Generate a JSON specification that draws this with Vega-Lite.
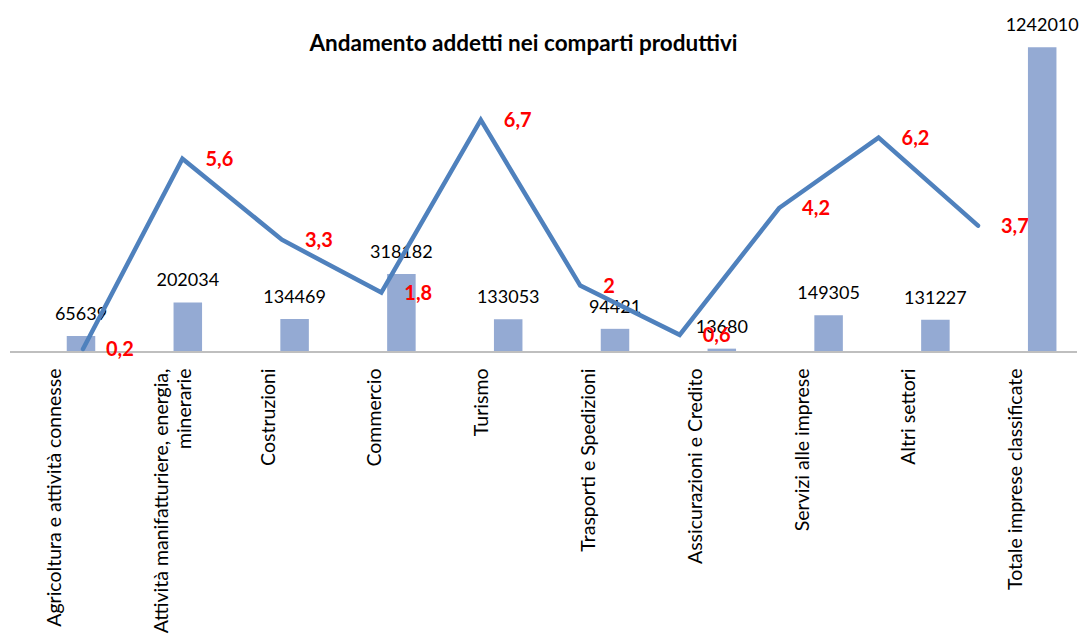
{
  "$schema": "https://vega.github.io/schema/vega-lite/v6.json",
  "width": 1067,
  "height": 322,
  "autosize": {"type": "none"},
  "padding": {"left": 10, "top": 30, "right": 6, "bottom": 289},
  "background": "white",
  "config": {
    "view": {"stroke": null},
    "font": "Lato",
    "locale": {"number": {"decimal": ",", "thousands": ".", "grouping": [3], "currency": ["€", ""]}}
  },
  "title": {
    "text": "Andamento addetti nei comparti produttivi",
    "font": "Lato",
    "fontSize": 22.5,
    "fontWeight": "bold",
    "color": "black",
    "anchor": "middle",
    "baseline": "middle",
    "offset": 0,
    "dx": -20,
    "dy": 49
  },
  "data": {
    "values": [
      {"comparto": "Agricoltura e attività connesse", "addetti": 65639, "variazione": 0.2},
      {"comparto": "Attività manifatturiere, energia, minerarie", "addetti": 202034, "variazione": 5.6},
      {"comparto": "Costruzioni", "addetti": 134469, "variazione": 3.3},
      {"comparto": "Commercio", "addetti": 318182, "variazione": 1.8},
      {"comparto": "Turismo", "addetti": 133053, "variazione": 6.7},
      {"comparto": "Trasporti e Spedizioni", "addetti": 94421, "variazione": 2},
      {"comparto": "Assicurazioni e Credito", "addetti": 13680, "variazione": 0.6},
      {"comparto": "Servizi alle imprese", "addetti": 149305, "variazione": 4.2},
      {"comparto": "Altri settori", "addetti": 131227, "variazione": 6.2},
      {"comparto": "Totale imprese classificate", "addetti": 1242010, "variazione": 3.7}
    ]
  },
  "layer": [
    {
      "encoding": {
        "x": {
          "field": "comparto",
          "type": "nominal",
          "sort": null,
          "scale": {"type": "band", "range": [17.6, 1085.6], "paddingInner": 0.733, "paddingOuter": 0.3665},
          "axis": {
            "title": null,
            "domain": false,
            "ticks": false,
            "tickSize": 0,
            "labelAngle": -90,
            "labelPadding": 16,
            "labelOffset": -26,
            "labelFont": "Lato",
            "labelFontSize": 19.5,
            "labelColor": "black",
            "labelLimit": 400,
            "labelLineHeight": 23,
            "labelExpr": "datum.label == 'Attività manifatturiere, energia, minerarie' ? ['Attività manifatturiere, energia,', 'minerarie'] : datum.label"
          }
        },
        "y": {
          "field": "addetti",
          "type": "quantitative",
          "scale": {"domain": [0, 1312000], "nice": false, "zero": true},
          "axis": null
        }
      },
      "layer": [
        {"mark": {"type": "bar", "color": "#94AAD3"}},
        {
          "mark": {"type": "text", "font": "Lato", "fontSize": 18, "color": "black", "baseline": "alphabetic", "dy": -16},
          "encoding": {"text": {"field": "addetti", "type": "quantitative", "format": "d"}}
        }
      ]
    },
    {
      "mark": {"type": "rule", "color": "#bfbfbf", "strokeWidth": 1.5},
      "encoding": {"y": {"datum": 0, "type": "quantitative", "scale": {"domain": [0, 1], "range": [322, 0]}, "axis": null}}
    },
    {
      "encoding": {
        "x": {
          "field": "comparto",
          "type": "nominal",
          "sort": null,
          "scale": {"type": "point", "range": [73, 968], "padding": 0},
          "axis": null
        },
        "y": {
          "field": "variazione",
          "type": "quantitative",
          "scale": {"domain": [0.1135, 9.253], "nice": false, "zero": false},
          "axis": null
        }
      },
      "layer": [
        {"mark": {"type": "line", "color": "#4F81BD", "strokeWidth": 4.5, "strokeCap": "round", "strokeJoin": "miter"}},
        {
          "mark": {"type": "text", "font": "Lato", "fontSize": 20, "fontWeight": "bold", "color": "#FF0000", "align": "left", "baseline": "middle", "dx": 23, "dy": 1},
          "encoding": {"text": {"field": "variazione", "type": "quantitative", "format": ".1~f"}}
        }
      ]
    }
  ],
  "resolve": {"scale": {"x": "independent", "y": "independent"}, "axis": {"x": "independent"}}
}
